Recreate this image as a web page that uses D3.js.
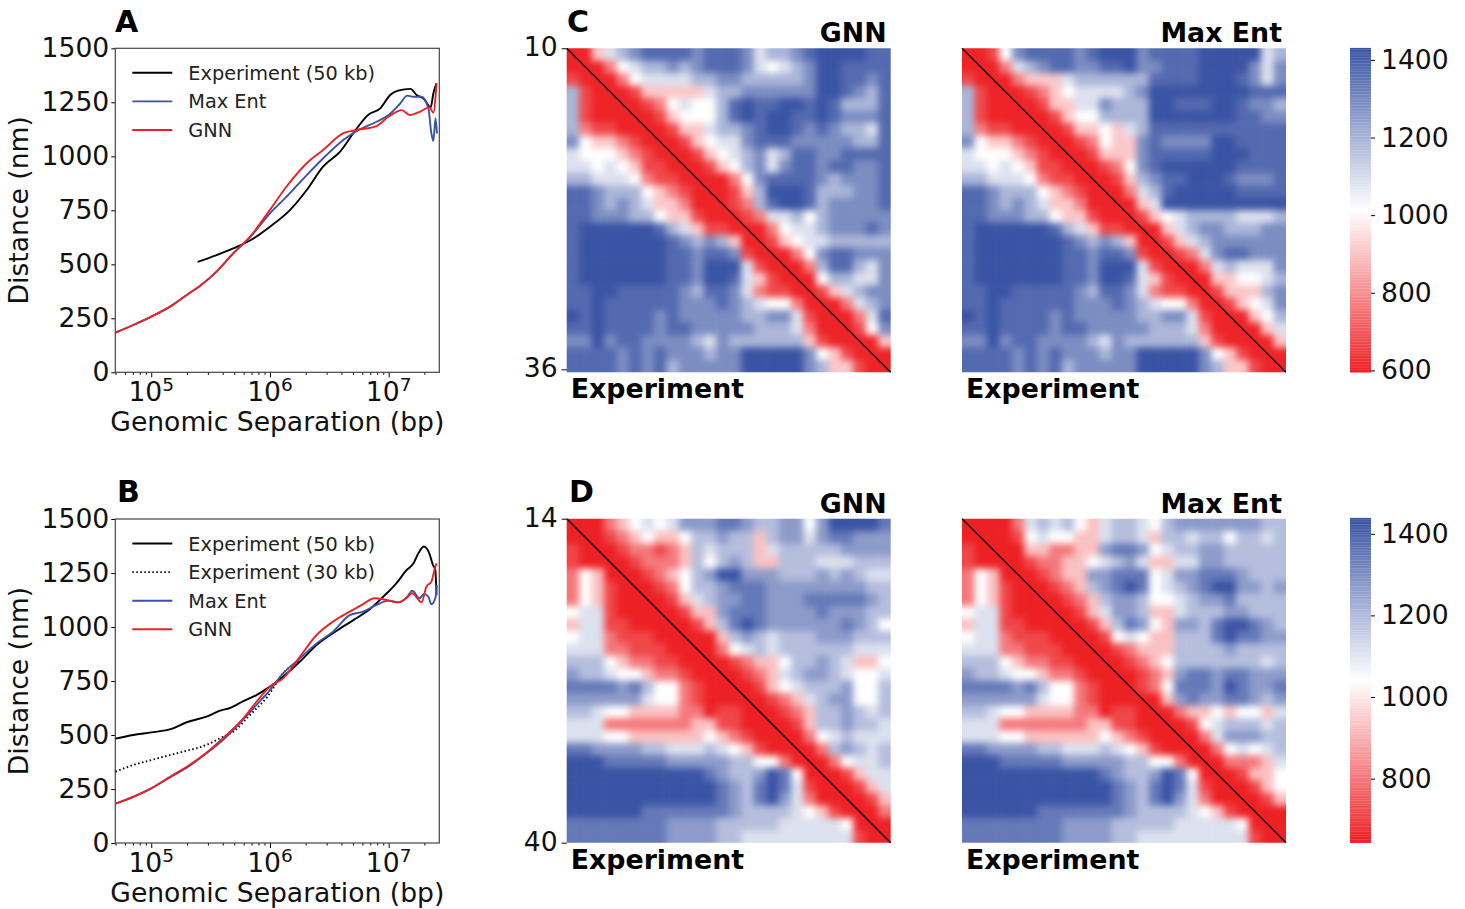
<!DOCTYPE html>
<html>
<head>
<meta charset="utf-8">
<script src="https://cdn.jsdelivr.net/npm/d3@7"></script>
<style>
  body { margin: 0; background: #fff; }
  text { font-family: "DejaVu Sans", sans-serif; fill: #111; }
</style>
</head>
<body>
<div id="figure"></div>
<script>
// distance scaling curves: bp and nm
var sepExpA = [246000,355000,490000,680000,1000000,1480000,2040000,2800000,3900000,5400000,6700000,8500000,10300000,12000000,15300000,17200000,19600000,22600000,23800000,25300000];
var distExpA = [511,543,574,610,674,752,844,952,1022,1130,1191,1222,1284,1304,1312,1284,1268,1227,1292,1338];
var sepMaxA = [50000,70500,100000,144000,199000,257000,355000,490000,680000,1000000,1380000,2040000,2800000,4150000,5400000,7900000,10000000,12400000,14400000,16000000,18900000,21600000,22900000,23800000,24800000,25500000];
var distMaxA = [184,219,258,304,358,400,466,550,625,736,813,913,990,1075,1118,1160,1191,1242,1281,1276,1276,1222,1106,1071,1176,1106];
var sepGnnA = [50000,70500,100000,144000,199000,257000,355000,490000,680000,1000000,1380000,2040000,2800000,4150000,5400000,7900000,10000000,12900000,15000000,18400000,22000000,23800000,25300000];
var distGnnA = [184,219,258,304,358,400,466,551,628,752,860,968,1029,1107,1122,1140,1184,1214,1191,1207,1227,1202,1338];

var sepExpB = [50000,70500,100000,148000,199000,292000,380000,460000,597000,770000,1000000,1290000,1790000,2470000,3650000,5040000,6960000,9000000,11600000,14200000,16200000,17800000,19800000,22000000,23600000,24700000,25300000];
var distExpB = [483,500,512,528,559,585,613,625,657,685,724,770,840,917,983,1032,1083,1140,1202,1264,1295,1341,1373,1341,1287,1264,1148];
var sepExp30B = [50000,70500,100000,144000,199000,292000,380000,490000,680000,950000,1290000,1790000];
var distExp30B = [330,361,384,407,427,454,485,515,593,677,785,845];
var sepMaxB = [50000,70500,100000,144000,199000,292000,430000,597000,770000,1000000,1290000,1790000,2470000,3400000,4700000,6100000,7900000,10000000,12000000,14200000,15800000,18200000,19800000,21600000,22900000,24700000,25500000];
var distMaxB = [182,214,253,304,349,415,492,572,639,708,785,855,924,978,1055,1071,1102,1122,1114,1136,1168,1133,1153,1140,1105,1133,1194];
var sepGnnB = [50000,70500,100000,144000,199000,292000,430000,597000,770000,1000000,1290000,1790000,2470000,3400000,4700000,6100000,7600000,9600000,12000000,14200000,15800000,18900000,20800000,22900000,24300000,25300000];
var distGnnB = [182,214,253,307,353,418,500,577,654,724,762,863,963,1025,1071,1106,1133,1125,1114,1136,1156,1114,1187,1210,1264,1295];

var legendA = ["Experiment (50 kb)", "Max Ent", "GNN"];
var legendB = ["Experiment (50 kb)", "Experiment (30 kb)", "Max Ent", "GNN"];
var distTicks = [0, 250, 500, 750, 1000, 1250, 1500];
var sepTicks = [100000, 1000000, 10000000];
var exponents = [5, 6, 7];

// contact distance maps, 1 Mb per cell, one digit per cell (index into the levels below)
// lower triangle rows hold columns 0..r-1, upper triangle rows hold columns r+1..25
var levelsC = [600,670,770,910,1012,1085,1190,1290,1375,1430];
var levelsD = [643,710,800,930,1040,1110,1190,1270,1350,1437];

var expC = ["","0","10","610","6100","61000","621100","7433210","54443210","554543110","6655542110",
  "88766643210","887676533200","8877766433100","89999998653110","899999998767630","8999999988788710",
  "89999999887999510","899999998879985310","8899888887688752110","88988888877787654420",
  "989888878777776677510","8898888788777776665200","77978877776576666663100","888878787776779999974310",
  "8888787867777799999763310"];
var gnnC = ["0356788887888756678999988","024566767888754567998888","02455556677666667998878",
  "0133333566777777998768","012454468988998986668","01344468989988987778","0133566789987876658",
  "013455788877777668","01345675688778888","0134675788788778","002478888767778","01369998666778",
  "1268998677778","125564677777","02455677787","1345566666","024788777","02688657","0466557",
  "135677","02567","0258","147","03","0"];
var maxC = ["0147888878999788889999956","025678877889778889999757","02333566666688889998757",
  "0123455556799999999888","013355766699888998776","01344666699999998877","0133435688888888888",
  "012433787777998888","01333788888999888","0124789999998888","013678899987778","02568999998888",
  "0359999999999","134566665556","03567766677","1356777777","125788777","02565557","0334456",
  "133367","13457","0346","035","03","0"];

var expD = ["","0","10","100","2430","24310","243100","4551000","35511000","455211100","5552211100",
  "66643221100","766544322100","8888786442100","77777754421000","665443333220110","5552222222331100",
  "55544333333432100","887777665556543100","9998888877777664420","99999999999876679840",
  "999999999999876898510","9999999999998768975200","99999988888887666654310","888888887777666665555540",
  "8888888877776655555555510"];
var gnnD = ["0023454577788766774799998","012343346676636775788777","01221236566635666667777",
  "0122236467633666555666","012346799777666767655","01246678887777777766","0135677887778888876",
  "013378887777877766","01368987777778764","0036765666777666","024565666666555","01233466765334",
  "0123567765445","013456667446","01235677446","0123667656","013667665","02456555","0267656",
  "024556","01355","0135","013","02","0"];
var maxD = ["0002565643566546777777766","001454433566536656646656","00332233788745667766666",
  "0122334567533557766666","012337788845778887666","01236789845678997767","0123677644567786666",
  "013577633566677666","01368743776899876","0145433666898877","012333666676666","01234666666656",
  "0123788788777","124888798778","03787788767","0233434435","014566656","02577766","0245456",
  "022235","01334","0134","013","00","0"];

var cbTicksC = [600, 800, 1000, 1200, 1400];
var cbTicksD = [800, 1000, 1200, 1400];

var red = "#ed2024", blue = "#3a53a4";
var size = 324;

var svg = d3.select("#figure").append("svg")
  .attr("width", 1465)
  .attr("height", 909);

var defs = svg.append("defs");
var soft = defs.append("filter")
  .attr("id", "soft")
  .attr("filterUnits", "userSpaceOnUse")
  .attr("x", -30).attr("y", -30).attr("width", 384).attr("height", 384)
  .attr("color-interpolation-filters", "sRGB");
soft.append("feGaussianBlur")
  .attr("in", "SourceGraphic")
  .attr("stdDeviation", 3.6);

function letter(name, x, y) {
  svg.append("text")
    .attr("x", x).attr("y", y)
    .style("font-size", "30px").style("font-weight", "bold").style("fill", "#000")
    .text(name);
}

/********** scaling panels **********/
function drawCurves(left, top, curves, labels, rowTop) {
  var g = svg.append("g").attr("transform", `translate(${left}, ${top})`);

  var x = d3.scaleLog().domain([49800, 26700000]).range([0, size]);
  var y = d3.scaleLinear().domain([0, 1500]).range([size, 0]);

  // y axis
  var yAxis = g.append("g").call(d3.axisLeft(y).tickValues(distTicks).tickSize(4).tickFormat(d3.format("d")));
  yAxis.selectAll("text").style("font-size", "26.6px").attr("x", -6);
  yAxis.select(".domain").remove();

  // x axis, major then minor ticks
  var xAxis = g.append("g")
    .attr("transform", `translate(0, ${size})`)
    .call(d3.axisBottom(x).tickValues(sepTicks).tickSize(5).tickFormat(""));
  xAxis.select(".domain").remove();

  var minor = [];
  d3.range(4, 8).forEach(function(e) {
    d3.range(2, 10).forEach(function(m) {
      var v = m * Math.pow(10, e);
      if (v > 49800 && v < 26700000) minor.push(v);
    });
  });
  var xMinor = g.append("g")
    .attr("transform", `translate(0, ${size})`)
    .call(d3.axisBottom(x).tickValues(minor).tickSize(2.5).tickFormat(""));
  xMinor.select(".domain").remove();

  sepTicks.forEach(function(v, i) {
    var t = g.append("text")
      .attr("x", x(v))
      .attr("y", size + 29)
      .attr("text-anchor", "middle")
      .style("font-size", "26.6px");
    t.append("tspan").text("10");
    t.append("tspan").attr("dy", -10).style("font-size", "18.5px").text(exponents[i]);
  });

  // frame
  g.append("rect")
    .attr("width", size).attr("height", size)
    .attr("fill", "none").attr("stroke", "#444").attr("stroke-width", 1.2);

  // lines
  var line = d3.line().x(d => x(d[0])).y(d => y(d[1])).curve(d3.curveMonotoneX);
  curves.forEach(function(c) {
    g.append("path")
      .datum(d3.zip(c.sep, c.dist))
      .attr("d", line)
      .attr("fill", "none")
      .attr("stroke", c.color)
      .attr("stroke-width", 1.9)
      .attr("stroke-dasharray", c.dash || null);
  });

  // legend
  labels.forEach(function(label, i) {
    var c = curves[i];
    var ly = rowTop + i * 28.6;
    g.append("line")
      .attr("x1", 17).attr("x2", 57).attr("y1", ly).attr("y2", ly)
      .attr("stroke", c.color).attr("stroke-width", 1.9)
      .attr("stroke-dasharray", c.dash || null);
    g.append("text")
      .attr("x", 73).attr("y", ly + 7)
      .style("font-size", "19.3px").style("fill", "#222")
      .text(label);
  });

  // axis titles
  g.append("text")
    .attr("x", size / 2).attr("y", size + 59)
    .attr("text-anchor", "middle")
    .style("font-size", "26.6px")
    .text("Genomic Separation (bp)");
  g.append("text")
    .attr("transform", `translate(-87, ${size / 2}) rotate(-90)`)
    .attr("text-anchor", "middle")
    .style("font-size", "26.6px")
    .text("Distance (nm)");
}

/********** contact maps **********/
function drawMap(left, top, lower, upper, levels, colour, id, name, tickStart, tickEnd, showTicks) {
  var g = svg.append("g").attr("transform", `translate(${left}, ${top})`);
  var n = lower.length;
  var band = d3.scaleBand().domain(d3.range(n)).range([0, size]);
  var step = band.step();

  // one value per cell, lower triangle + diagonal + upper triangle
  var cells = [];
  d3.range(n).forEach(function(r) {
    d3.range(n).forEach(function(c) {
      var digit = 0;
      if (c < r) digit = +lower[r][c];
      else if (c > r) digit = +upper[r][c - r - 1];
      cells.push({ r: r, c: c, value: levels[digit] });
    });
  });

  defs.append("clipPath").attr("id", id)
    .append("rect").attr("width", size).attr("height", size);

  // edge cells stick out past the clip so the blur does not fade at the border
  var pad = 20;
  g.append("g").attr("clip-path", `url(#${id})`)
    .append("g").attr("filter", "url(#soft)")
    .selectAll("rect")
    .data(cells)
    .enter()
    .append("rect")
    .attr("x", d => band(d.c) - (d.c === 0 ? pad : 0))
    .attr("y", d => band(d.r) - (d.r === 0 ? pad : 0))
    .attr("width", d => step + 0.5 + (d.c === 0 || d.c === n - 1 ? pad : 0))
    .attr("height", d => step + 0.5 + (d.r === 0 || d.r === n - 1 ? pad : 0))
    .attr("fill", d => colour(d.value));

  // diagonal
  g.append("line")
    .attr("x1", 0).attr("y1", 0).attr("x2", size).attr("y2", size)
    .attr("stroke", "#000").attr("stroke-width", 1.3);

  // titles
  g.append("text")
    .attr("x", size - 4).attr("y", -6)
    .attr("text-anchor", "end")
    .style("font-size", "26.8px").style("font-weight", "bold").style("fill", "#000")
    .text(name);
  g.append("text")
    .attr("x", 4).attr("y", size + 26)
    .style("font-size", "26.8px").style("font-weight", "bold").style("fill", "#000")
    .text("Experiment");

  if (showTicks) {
    var pos = d3.scaleLinear().domain([tickStart, tickEnd]).range([0, tickStart === 10 ? size - 3 : size]);
    var axis = g.append("g").call(d3.axisLeft(pos).tickValues([tickStart, tickEnd]).tickSize(5).tickFormat(d3.format("d")));
    axis.select(".domain").remove();
    axis.selectAll("text").style("font-size", "26.6px").attr("x", -9).attr("dy", "0.28em");
  }
}

function drawColorbar(left, top, vmin, vmax, colour, ticks) {
  var g = svg.append("g").attr("transform", `translate(${left}, ${top})`);
  var y = d3.scaleLinear().domain([vmin, vmax]).range([size, 0]);

  g.selectAll("rect")
    .data(d3.range(vmin, vmax, 4))
    .enter()
    .append("rect")
    .attr("x", 0)
    .attr("y", d => y(d + 4))
    .attr("width", 21)
    .attr("height", y(0) - y(4.6))
    .attr("fill", d => colour(d));

  var axis = g.append("g")
    .attr("transform", "translate(21, 0)")
    .call(d3.axisRight(y).tickValues(ticks).tickSize(4).tickFormat(d3.format("d")));
  axis.select(".domain").remove();
  axis.selectAll("text").style("font-size", "26.6px").attr("x", 10);
}

var colourC = d3.scaleLinear().domain([595, 1012, 1430]).range([red, "#ffffff", blue]).clamp(true);
var colourD = d3.scaleLinear().domain([643, 1040, 1437]).range([red, "#ffffff", blue]).clamp(true);

drawCurves(115.3, 48.3, [
  { sep: sepExpA, dist: distExpA, color: "#000" },
  { sep: sepMaxA, dist: distMaxA, color: blue },
  { sep: sepGnnA, dist: distGnnA, color: red }
], legendA, 24.5);

drawCurves(115.3, 519, [
  { sep: sepExpB, dist: distExpB, color: "#000" },
  { sep: sepExp30B, dist: distExp30B, color: "#000", dash: "1.5 2.5" },
  { sep: sepMaxB, dist: distMaxB, color: blue },
  { sep: sepGnnB, dist: distGnnB, color: red }
], legendB, 24.5);

drawMap(566.7, 48.3, expC, gnnC, levelsC, colourC, "clipC1", "GNN", 10, 36, true);
drawMap(962, 48.3, expC, maxC, levelsC, colourC, "clipC2", "Max Ent", 10, 36, false);
drawMap(566.7, 518.7, expD, gnnD, levelsD, colourD, "clipD1", "GNN", 14, 40, true);
drawMap(962, 518.7, expD, maxD, levelsD, colourD, "clipD2", "Max Ent", 14, 40, false);

drawColorbar(1350, 48.3, 595, 1430, colourC, cbTicksC);
drawColorbar(1350, 518.7, 643, 1437, colourD, cbTicksD);

letter("A", 115, 32);
letter("B", 117, 502);
letter("C", 567, 32);
letter("D", 569, 502);
</script>
</body>
</html>
